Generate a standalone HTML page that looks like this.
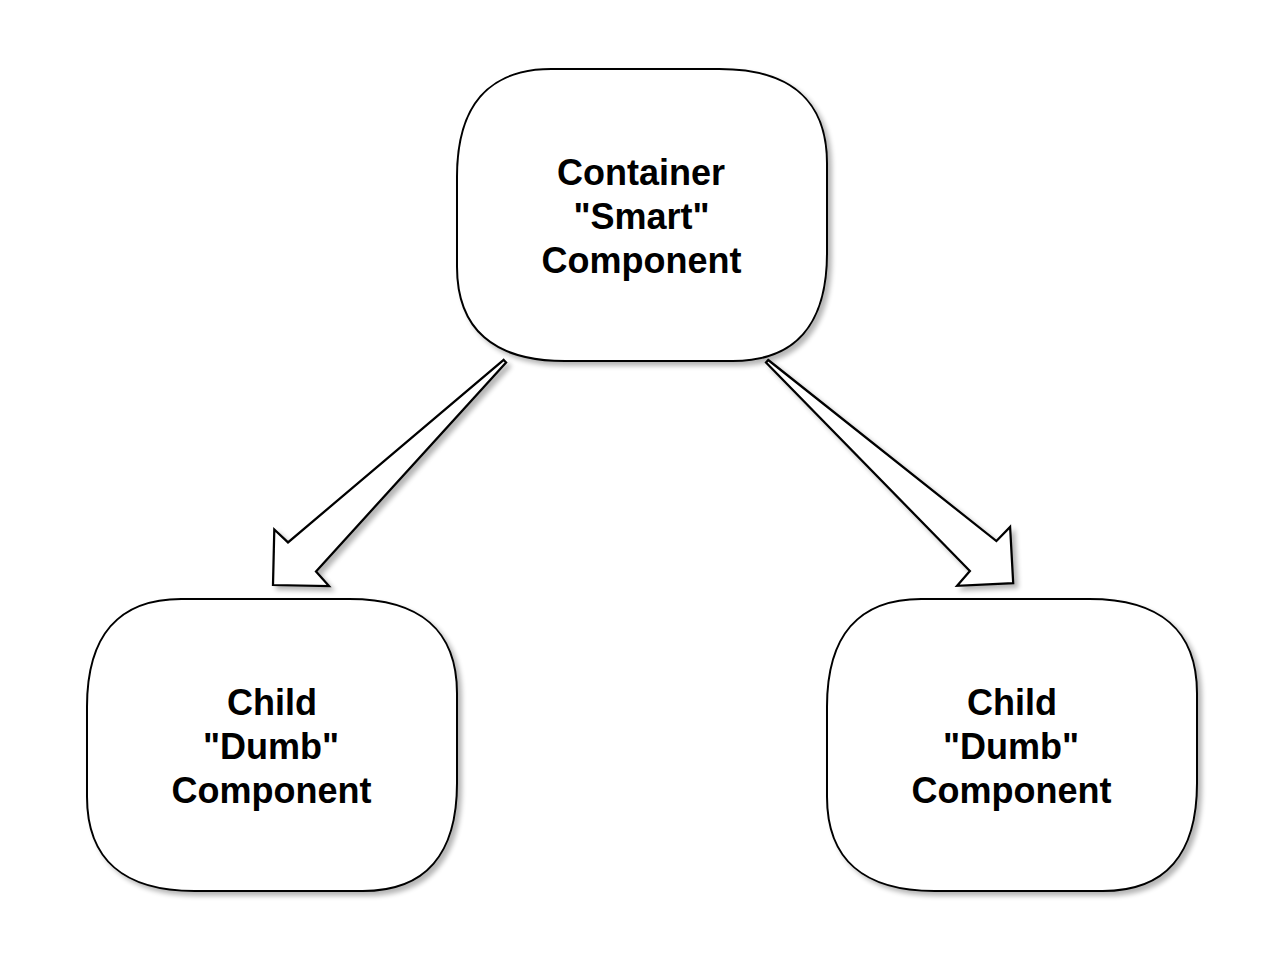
<!DOCTYPE html>
<html>
<head>
<meta charset="utf-8">
<title>Container and Child Components</title>
<style>
html,body{margin:0;padding:0;background:#fff;}
body{width:1280px;height:960px;overflow:hidden;position:relative;}
svg{position:absolute;left:0;top:0;display:block;}
.shape{fill:#fff;stroke:#000;stroke-width:2;stroke-linejoin:miter;stroke-miterlimit:10;}
.arrow{stroke-width:2.25;}
.lbl{font-family:"Liberation Sans",Helvetica,Arial,sans-serif;font-weight:bold;font-size:36px;fill:#000;text-anchor:middle;}
</style>
</head>
<body>
<svg width="1280" height="960" viewBox="0 0 1280 960">
  <defs>
    <filter id="sh" x="-10%" y="-10%" width="120%" height="120%">
      <feGaussianBlur in="SourceAlpha" stdDeviation="2.5" result="b"/>
      <feOffset in="b" dx="4" dy="4" result="o"/>
      <feComponentTransfer in="o" result="s"><feFuncA type="linear" slope="0.29"/></feComponentTransfer>
      <feMerge><feMergeNode in="s"/><feMergeNode in="SourceGraphic"/></feMerge>
    </filter>
  </defs>

  <!-- boxes -->
  <g filter="url(#sh)">
    <path class="shape" d="M551.3,69 L719.3,69 C790.17,69 827,100.68 827,163.3 L827,253.3 C827,324.17 795.32,361 732.7,361 L564.7,361 C493.83,361 457,329.32 457,266.7 L457,176.7 C457,105.83 488.68,69 551.3,69 Z"/>
  </g>
  <g filter="url(#sh)">
    <path class="shape" d="M181.3,599 L349.3,599 C420.17,599 457,630.68 457,693.3 L457,783.3 C457,854.17 425.32,891 362.7,891 L194.7,891 C123.83,891 87,859.32 87,796.7 L87,706.7 C87,635.83 118.68,599 181.3,599 Z"/>
  </g>
  <g filter="url(#sh)">
    <path class="shape" d="M921.3,599 L1089.3,599 C1160.17,599 1197,630.68 1197,693.3 L1197,783.3 C1197,854.17 1165.32,891 1102.7,891 L934.7,891 C863.83,891 827,859.32 827,796.7 L827,706.7 C827,635.83 858.68,599 921.3,599 Z"/>
  </g>

  <!-- arrows -->
  <g filter="url(#sh)">
    <polygon class="shape arrow" points="503.7,359.9 506.1,362.5 316,571.4 329,586 273,585 274.3,529.5 288,542.4"/>
  </g>
  <g filter="url(#sh)">
    <polygon class="shape arrow" points="768.2,360 996.4,541.1 1010.1,526.9 1013.2,583.1 957.1,585.8 969.9,571 766,362.5"/>
  </g>

  <!-- labels -->
  <text class="lbl" x="641" y="185.2">Container</text>
  <text class="lbl" x="641.5" y="229.2">"Smart"</text>
  <text class="lbl" x="641.5" y="273.2">Component</text>

  <text class="lbl" x="272" y="715.2">Child</text>
  <text class="lbl" x="271" y="759.2">"Dumb"</text>
  <text class="lbl" x="271.5" y="803.2">Component</text>

  <text class="lbl" x="1012" y="715.2">Child</text>
  <text class="lbl" x="1011" y="759.2">"Dumb"</text>
  <text class="lbl" x="1011.5" y="803.2">Component</text>
</svg>
</body>
</html>
